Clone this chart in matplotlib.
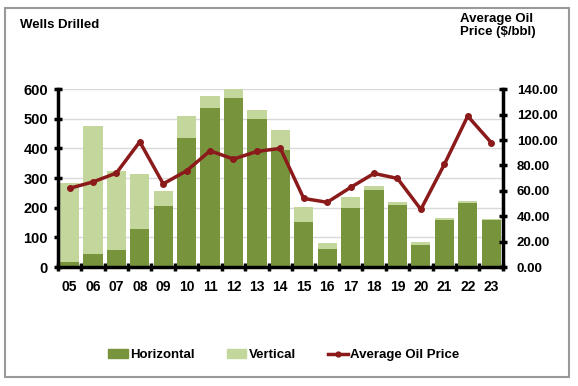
import numpy as np
import matplotlib.pyplot as plt
from matplotlib.patches import Rectangle
from matplotlib.lines import Line2D

plt.rcParams['font.family'] = ['Liberation Sans', 'DejaVu Sans']
plt.rcParams['font.weight'] = 'bold'

years = ['05', '06', '07', '08', '09', '10', '11', '12', '13', '14',
         '15', '16', '17', '18', '19', '20', '21', '22', '23']
horizontal = [18, 44, 57, 127, 207, 436, 535, 570, 498, 394,
              151, 61, 201, 260, 210, 76, 158, 217, 158]
total = [284, 475, 323, 313, 257, 509, 576, 600, 530, 462,
         203, 80, 237, 273, 221, 83, 167, 224, 162]
vertical = [t - h for t, h in zip(total, horizontal)]
oil_price = [62, 67, 74, 98.6, 65.5, 75.8, 91.5, 85, 91, 93.4,
             54, 51, 62.7, 73.7, 69.8, 45.4, 80.8, 118.8, 98]

dark_green = '#77933C'
light_green = '#C3D69B'
red = '#8B1A1A'

fig = plt.figure(figsize=(5.78, 3.86), dpi=100)
fig.patches.append(Rectangle((0.009, 0.023), 0.975, 0.956, transform=fig.transFigure,
                             fill=False, edgecolor='#999999', linewidth=1.5))

ax = fig.add_axes([0.100, 0.308, 0.770, 0.461])
x = np.arange(len(years))
ax.bar(x, horizontal, width=0.82, color=dark_green, zorder=2)
ax.bar(x, vertical, bottom=horizontal, width=0.82, color=light_green, zorder=2)
ax.set_ylim(0, 600)
ax.set_xlim(-0.5, len(years) - 0.5)
ax.set_yticks(range(0, 601, 100))
ax.grid(axis='y', color='#D9D9D9', linewidth=1, zorder=0)
ax.set_axisbelow(True)

ax.set_xticks(x)
ax.set_xticklabels(years, fontsize=10, fontweight='bold')
ax.set_xticks(np.arange(-0.5, len(years)), minor=True)
ax.tick_params(axis='x', which='major', length=0, pad=9)
ax.tick_params(axis='x', which='minor', length=6, width=2.5, direction='inout')
ax.tick_params(axis='y', length=6, width=2.5, direction='inout', labelsize=10.5, pad=4)
for lab in ax.get_yticklabels():
    lab.set_fontweight('bold')

for s in ['top', 'right']:
    ax.spines[s].set_visible(False)
ax.spines['left'].set_linewidth(2.5)
ax.spines['bottom'].set_linewidth(2.5)

ax2 = ax.twinx()
ax2.plot(x, oil_price, color=red, linewidth=2.5, marker='o', markersize=4, zorder=3)
ax2.set_ylim(0, 140)
ax2.set_yticks(range(0, 141, 20))
ax2.set_yticklabels(['%.2f' % v for v in range(0, 141, 20)], fontsize=9.5, fontweight='bold')
ax2.tick_params(axis='y', length=6, width=2.5, direction='inout', pad=7)
for s in ['top', 'left', 'bottom']:
    ax2.spines[s].set_visible(False)
ax2.spines['right'].set_linewidth(2.5)

fig.text(0.035, 0.935, 'Wells Drilled', fontsize=9.5, fontweight='bold', va='center')
fig.text(0.796, 0.935, 'Average Oil\nPrice ($/bbl)', fontsize=9.5, fontweight='bold',
         va='center', ha='left', linespacing=1.1)

handles = [Rectangle((0, 0), 1, 1, color=dark_green),
           Rectangle((0, 0), 1, 1, color=light_green),
           Line2D([0], [0], color=red, linewidth=2.5, marker='o', markersize=3.5)]
fig.legend(handles, ['Horizontal', 'Vertical', 'Average Oil Price'],
           loc='center', bbox_to_anchor=(0.491, 0.080), ncol=3, frameon=False,
           fontsize=9.5, handlelength=1.5, handleheight=0.6, columnspacing=2.4,
           handletextpad=0.2)

fig.savefig('out.png', dpi=100)
